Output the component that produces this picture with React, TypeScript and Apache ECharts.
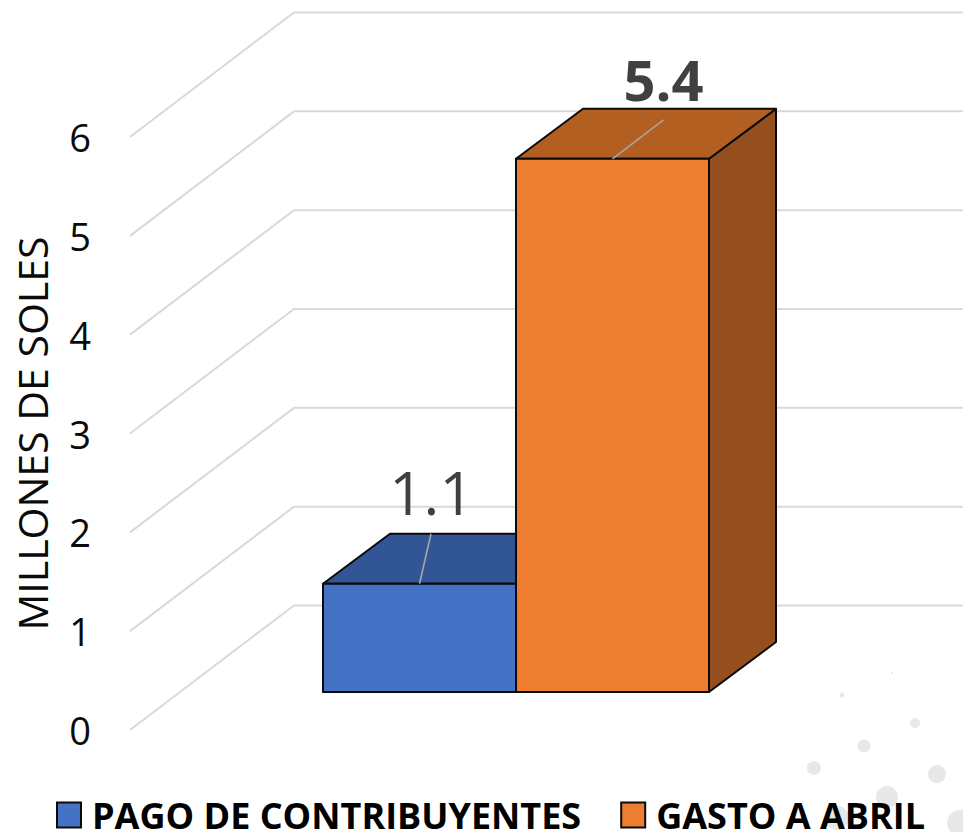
import React, { useEffect, useRef } from "react";
import * as echarts from "echarts";

const categories = [""];
const seriesNames = ["PAGO DE CONTRIBUYENTES", "GASTO A ABRIL"];
const pagoValues = [1.1];
const gastoValues = [5.4];
const valueTicks = [0, 1, 2, 3, 4, 5, 6];

const FONT = "'Open Sans', sans-serif";

const DOTS = [
  [892, 673, 1], [842, 695, 2.5], [915, 723, 5], [864, 746, 6.5], [814, 768, 7],
  [937, 774, 9], [887, 797, 11], [837, 818, 12], [960, 823, 13],
];

const gridRender = (params: any, api: any) => {
  const cs = params.coordSys;
  const y = api.coord([0, api.value(1)])[1];
  return {
    type: "polyline",
    shape: { points: [[cs.x, y], [cs.x + 164, y - 124.5], [963, y - 124.5]] },
    style: { fill: "none", stroke: "#d9d9d9", lineWidth: 2 },
    silent: true,
  };
};

const barRender = (cfg: any) => (params: any, api: any) => {
  const v = api.value(1);
  const [cx, y0] = api.coord([0, 0]);
  const yTop0 = api.coord([0, v])[1];
  const band = api.size([1, 0])[0];
  const w = band * 0.25;
  const x1 = cx + cfg.side * w;
  const x2 = x1 + w;
  const bottom = y0 - 38;
  const top = yTop0 - 38 + 0.5;
  const dx = 67;
  const dy = 50;
  const edge = { stroke: "#0a0a0a", lineWidth: 2, lineJoin: "round" };
  const xm = (x1 + x2) / 2;
  return {
    type: "group",
    children: [
      { type: "polygon", shape: { points: [[x2, top], [x2 + dx, top - dy], [x2 + dx, bottom - dy], [x2, bottom]] }, style: { fill: cfg.sideColor, ...edge } },
      { type: "polygon", shape: { points: [[x1, top], [x1 + dx, top - dy], [x2 + dx, top - dy], [x2, top]] }, style: { fill: cfg.topColor, ...edge } },
      { type: "rect", shape: { x: x1, y: top, width: w, height: bottom - top }, style: { fill: cfg.color, ...edge } },
      { type: "line", shape: { x1: xm, y1: top, x2: xm + cfg.leader[0], y2: top + cfg.leader[1] }, style: { stroke: "#a6a6a6", lineWidth: 1.6 } },
      {
        type: "text",
        style: {
          text: api.value(1).toFixed(1),
          x: xm + cfg.label[0],
          y: top + cfg.label[1],
          textAlign: "center",
          textVerticalAlign: "middle",
          fill: "#404040",
          font: `${cfg.weight} ${cfg.size}px ${FONT}`,
        },
      },
    ],
  };
};

export default function App() {
  const ref = useRef<HTMLDivElement>(null);
  useEffect(() => {
    const chart = echarts.init(ref.current!, null, { renderer: "svg" });
    chart.setOption({
      animation: false,
      backgroundColor: "#ffffff",
      grid: { left: 130, width: 772, top: 137, height: 593, outerBoundsMode: "none" },
      xAxis: { type: "category", data: categories, show: false },
      yAxis: {
        type: "value",
        min: 0,
        max: 6,
        interval: 1,
        name: "MILLONES DE SOLES",
        nameLocation: "middle",
        nameRotate: 90,
        nameGap: 78,
        nameTextStyle: { fontFamily: FONT, fontSize: 41, color: "#0a0a0a" },
        axisLine: { show: false },
        axisTick: { show: false },
        splitLine: { show: false },
        axisLabel: { fontFamily: FONT, fontSize: 38, color: "#0a0a0a", margin: 39, padding: [3, 0, 0, 0] },
      },
      legend: {
        left: 56,
        top: 797,
        padding: 0,
        itemWidth: 24,
        itemHeight: 25,
        itemGap: 39,
        icon: "rect",
        selectedMode: false,
        textStyle: { fontFamily: FONT, fontSize: 36, lineHeight: 30, fontWeight: "bold", color: "#000000", padding: [0, 0, 0, 6] },
        data: [
          { name: seriesNames[0], itemStyle: { color: "#4472c4", borderColor: "#0a0a0a", borderWidth: 2 } },
          { name: seriesNames[1], itemStyle: { color: "#ed7d31", borderColor: "#0a0a0a", borderWidth: 2 } },
        ],
      },
      graphic: DOTS.map(([x, y, r]) => ({
        type: "circle",
        shape: { cx: x, cy: y, r },
        style: { fill: "#e8e8e8" },
        silent: true,
        z: 0,
      })),
      series: [
        {
          type: "custom",
          name: "grid",
          renderItem: gridRender,
          data: valueTicks.map((t) => [0, t]),
          encode: { x: 0, y: 1 },
          silent: true,
          z: 1,
        },
        {
          type: "custom",
          name: seriesNames[0],
          itemStyle: { color: "#4472c4" },
          renderItem: barRender({ side: -1, color: "#4472c4", topColor: "#325596", sideColor: "#2f528f", leader: [11.5, -50], label: [12, -92], weight: "normal", size: 60 }),
          data: pagoValues.map((v, i) => [i, v]),
          encode: { x: 0, y: 1 },
          z: 2,
        },
        {
          type: "custom",
          name: seriesNames[1],
          itemStyle: { color: "#ed7d31" },
          renderItem: barRender({ side: 0, color: "#ed7d31", topColor: "#b35f22", sideColor: "#954f1e", leader: [51, -39], label: [51, -80], weight: "bold", size: 56 }),
          data: gastoValues.map((v, i) => [i, v]),
          encode: { x: 0, y: 1 },
          z: 3,
        },
      ],
    });
    return () => chart.dispose();
  }, []);
  return <div ref={ref} style={{ position: "fixed", left: 0, top: 0, width: 963, height: 832 }} />;
}
